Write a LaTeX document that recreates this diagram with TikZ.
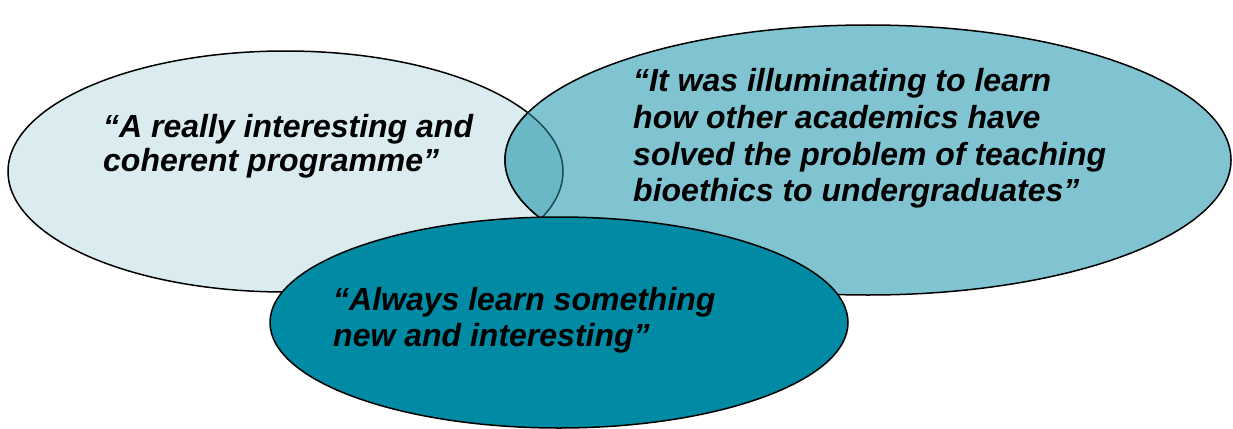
\documentclass[tikz,border=0pt]{standalone}
\usepackage{fontspec}
\setmainfont{Liberation Sans}
\definecolor{leftfill}{HTML}{DAECF0}
\definecolor{rightfill}{HTML}{80C4D1}
\definecolor{lensfill}{HTML}{6AB8C6}
\definecolor{bottomfill}{HTML}{008AA3}
\definecolor{lensedge}{HTML}{1E4A55}
\tikzset{
  bubble/.style={draw=black, line width=1.5pt},
  quote/.style={anchor=base west, inner sep=0pt, font=\fontsize{32}{36.5}\selectfont\bfseries\itshape}
}
\begin{document}
\begin{tikzpicture}[x=1pt,y=-1pt]
\useasboundingbox (0,0) rectangle (1233,428);
% left ellipse
\path[bubble, fill=leftfill] (285.5,171.5) ellipse [x radius=277.5pt, y radius=120.5pt];
% right ellipse
\path[bubble, fill=rightfill] (868,160) ellipse [x radius=363pt, y radius=135pt];
% lens
\begin{scope}
  \clip (285.5,171.5) ellipse [x radius=277.5pt, y radius=120.5pt];
  \fill[lensfill] (868,160) ellipse [x radius=363pt, y radius=135pt];
  \draw[line width=1.5pt] (868,160) ellipse [x radius=363pt, y radius=135pt];
\end{scope}
\begin{scope}
  \clip (868,160) ellipse [x radius=363pt, y radius=135pt];
  \draw[lensedge, line width=1.5pt] (285.5,171.5) ellipse [x radius=277.5pt, y radius=120.5pt];
\end{scope}
% bottom ellipse
\path[bubble, fill=bottomfill] (559,322.5) ellipse [x radius=289pt, y radius=105.5pt];
% texts
\node[quote] (l1) at (103,137) {“A really interesting and};
\node[quote] (l2) at (103,171.5) {coherent programme”};
\node[quote] (r1) at (633,91.7) {“It was illuminating to learn};
\node[quote] (r2) at (633,128.3) {how other academics have};
\node[quote] (r3) at (633,165) {solved the problem of teaching};
\node[quote] (r4) at (633,201.7) {bioethics to undergraduates”};
\node[quote] (b1) at (333,310) {“Always learn something};
\node[quote] (b2) at (333,346.7) {new and interesting”};
\end{tikzpicture}
\end{document}
